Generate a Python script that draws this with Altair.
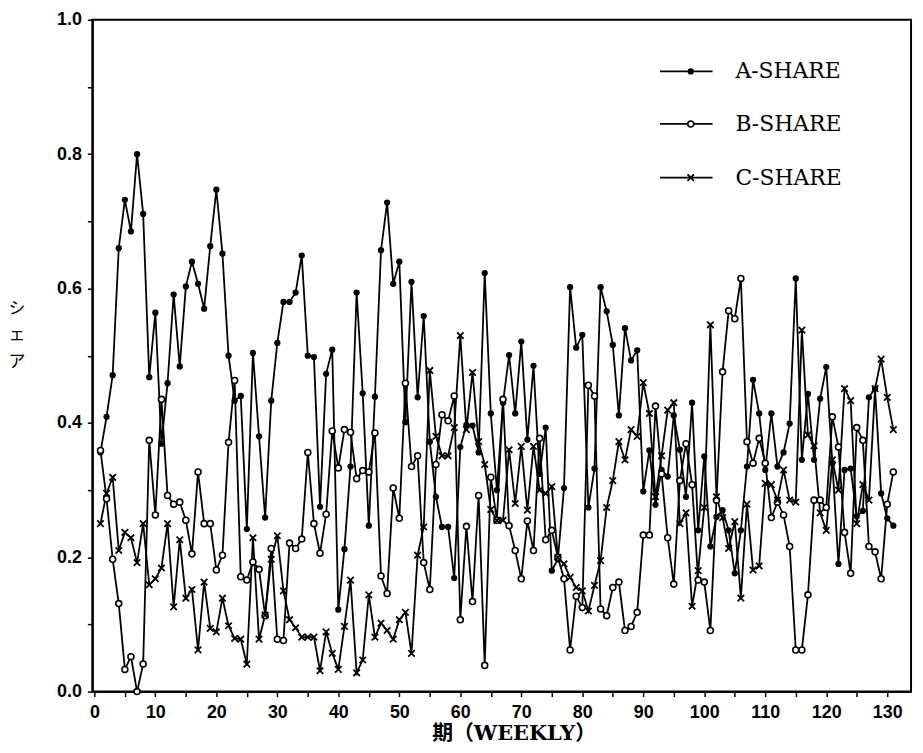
import altair as alt
import pandas as pd

weeks = list(range(1, 132))

a_share = [
    0.356, 0.409, 0.471, 0.660, 0.732, 0.685, 0.800, 0.711, 0.468, 0.564,
    0.369, 0.459, 0.591, 0.484, 0.603, 0.640, 0.607, 0.570, 0.663, 0.747,
    0.652, 0.500, 0.433, 0.440, 0.242, 0.504, 0.380, 0.259, 0.433, 0.519,
    0.580, 0.580, 0.594, 0.649, 0.500, 0.498, 0.275, 0.473, 0.509, 0.122,
    0.212, 0.335, 0.594, 0.444, 0.247, 0.439, 0.657, 0.728, 0.607, 0.640,
    0.401, 0.610, 0.438, 0.559, 0.372, 0.290, 0.245, 0.245, 0.169, 0.364,
    0.397, 0.396, 0.356, 0.623, 0.414, 0.300, 0.430, 0.501, 0.414, 0.521,
    0.375, 0.485, 0.324, 0.393, 0.180, 0.197, 0.303, 0.602, 0.512, 0.531,
    0.274, 0.332, 0.602, 0.566, 0.516, 0.411, 0.541, 0.493, 0.508, 0.298,
    0.359, 0.278, 0.330, 0.320, 0.411, 0.360, 0.290, 0.430, 0.240, 0.350,
    0.216, 0.260, 0.270, 0.240, 0.176, 0.240, 0.335, 0.464, 0.414, 0.330,
    0.414, 0.335, 0.356, 0.399, 0.615, 0.345, 0.443, 0.345, 0.436, 0.483,
    0.340, 0.190, 0.330, 0.332, 0.261, 0.269, 0.438, 0.451, 0.295, 0.258,
    0.247,
]

b_share = [
    0.359, 0.287, 0.197, 0.131, 0.033, 0.052, 0.000, 0.041, 0.374, 0.263,
    0.435, 0.292, 0.279, 0.282, 0.255, 0.205, 0.327, 0.250, 0.250, 0.181,
    0.203, 0.371, 0.463, 0.171, 0.166, 0.193, 0.182, 0.113, 0.213, 0.078,
    0.076, 0.221, 0.213, 0.227, 0.356, 0.250, 0.206, 0.264, 0.388, 0.333,
    0.390, 0.386, 0.317, 0.329, 0.327, 0.385, 0.172, 0.146, 0.303, 0.258,
    0.459, 0.335, 0.351, 0.192, 0.152, 0.338, 0.412, 0.403, 0.440, 0.107,
    0.246, 0.134, 0.292, 0.039, 0.319, 0.255, 0.435, 0.247, 0.210, 0.168,
    0.254, 0.210, 0.377, 0.226, 0.240, 0.200, 0.168, 0.062, 0.142, 0.125,
    0.456, 0.440, 0.123, 0.113, 0.155, 0.163, 0.091, 0.097, 0.118, 0.233,
    0.233, 0.425, 0.324, 0.229, 0.160, 0.314, 0.369, 0.308, 0.166, 0.163,
    0.091, 0.285, 0.476, 0.567, 0.555, 0.615, 0.372, 0.340, 0.377, 0.340,
    0.259, 0.282, 0.263, 0.216, 0.062, 0.062, 0.144, 0.285, 0.285, 0.274,
    0.409, 0.364, 0.237, 0.176, 0.393, 0.374, 0.216, 0.208, 0.168, 0.279,
    0.327,
]

c_share = [
    0.250, 0.295, 0.319, 0.210, 0.237, 0.229, 0.192, 0.250, 0.159, 0.168,
    0.184, 0.250, 0.126, 0.226, 0.139, 0.152, 0.062, 0.163, 0.094, 0.089,
    0.139, 0.098, 0.079, 0.078, 0.041, 0.229, 0.078, 0.114, 0.197, 0.232,
    0.150, 0.107, 0.095, 0.081, 0.081, 0.081, 0.031, 0.089, 0.057, 0.033,
    0.097, 0.166, 0.028, 0.047, 0.144, 0.081, 0.102, 0.091, 0.078, 0.107,
    0.118, 0.057, 0.203, 0.245, 0.478, 0.380, 0.351, 0.351, 0.393, 0.530,
    0.390, 0.475, 0.372, 0.338, 0.271, 0.255, 0.255, 0.360, 0.280, 0.365,
    0.270, 0.365, 0.300, 0.295, 0.305, 0.200, 0.190, 0.170, 0.155, 0.150,
    0.120, 0.158, 0.195, 0.274, 0.314, 0.372, 0.345, 0.390, 0.380, 0.460,
    0.414, 0.290, 0.351, 0.419, 0.430, 0.250, 0.266, 0.127, 0.180, 0.274,
    0.546, 0.290, 0.259, 0.213, 0.253, 0.139, 0.279, 0.181, 0.187, 0.310,
    0.308, 0.285, 0.330, 0.285, 0.282, 0.538, 0.382, 0.366, 0.266, 0.240,
    0.345, 0.300, 0.451, 0.433, 0.250, 0.308, 0.285, 0.451, 0.495, 0.438,
    0.390,
]

series_names = ["A-SHARE", "B-SHARE", "C-SHARE"]
x_tick_values = list(range(0, 131, 5))
y_tick_values = [round(i * 0.1, 1) for i in range(11)]
x_title = "期（WEEKLY）"
y_title = ["シ", "ェ", "ア"]

rows = []
for name, vals in zip(series_names, [a_share, b_share, c_share]):
    for w, v in zip(weeks, vals):
        rows.append({"week": w, "share": v, "series": name})
df = pd.DataFrame(rows)

W, H = 825, 677
xs = alt.Scale(domain=[-0.33, 133.9], nice=False, zero=False)
ys = alt.Scale(domain=[0, 1], nice=False, zero=False)

x_enc = alt.X(
    "week:Q", scale=xs,
    axis=alt.Axis(values=x_tick_values, title=None, labelPadding=7,
                  labelExpr="datum.value % 10 == 0 ? datum.label : ''"),
)
y_enc = alt.Y(
    "share:Q", scale=ys,
    axis=alt.Axis(values=y_tick_values, title=None, labelPadding=6,
                  labelExpr="round(datum.value * 10) % 2 == 0 ? format(datum.value, '.1f') : ''"),
)

base = alt.Chart(df)

lines = base.mark_line(color="black", strokeWidth=1.8).encode(
    x=x_enc, y=y_enc, detail="series:N"
)

X_SHAPE = "M-1,-1L1,1M1,-1L-1,1"

def marker(chart, name):
    if name == "A-SHARE":
        return chart.mark_point(shape="circle", filled=True, color="black",
                                size=40, opacity=1)
    if name == "B-SHARE":
        return chart.mark_point(shape="circle", filled=True, fill="white",
                                stroke="black", strokeWidth=1.6, size=36, opacity=1)
    return chart.mark_point(shape=X_SHAPE, filled=False, stroke="black",
                            strokeWidth=1.8, size=42, opacity=1)

points = []
for name in series_names:
    points.append(
        marker(base.transform_filter(alt.datum.series == name), name).encode(x=x_enc, y=y_enc)
    )

# legend (drawn manually, top-right inside plot)
legend_layers = []
legend_y = [52, 105, 159]
for name, ly in zip(series_names, legend_y):
    ldf = pd.DataFrame({"t": [name]})
    lc = alt.Chart(ldf)
    legend_layers.append(
        lc.mark_rule(color="black", strokeWidth=1.8).encode(
            x=alt.value(572), x2=alt.value(625), y=alt.value(ly))
    )
    legend_layers.append(marker(lc, name).encode(x=alt.value(603), y=alt.value(ly)))
    legend_layers.append(
        lc.mark_text(align="left", baseline="middle", font="DejaVu Serif",
                     fontSize=22, color="black").encode(
            x=alt.value(648), y=alt.value(ly), text="t:N")
    )

xt = alt.Chart(pd.DataFrame({"t": [x_title]})).mark_text(
    align="center", baseline="middle", font="DejaVu Serif, Noto Sans CJK JP",
    fontSize=21, fontWeight="bold", color="black").encode(
    x=alt.value(425), y=alt.value(720), text="t:N")

yt = alt.Chart(pd.DataFrame({"t": ["y"]})).mark_text(
    align="center", baseline="middle", font="Noto Sans CJK JP",
    fontSize=17, color="black", lineHeight=27).encode(
    x=alt.value(-76), y=alt.value(291), text=alt.value(y_title))

chart = alt.layer(lines, *points, *legend_layers, xt, yt).properties(
    width=W, height=H,
    padding={"left": 85, "top": 9, "right": 4, "bottom": 58},
    autosize=alt.AutoSizeParams(type="none"),
).configure_view(
    stroke="black", strokeWidth=2
).configure_axis(
    domainColor="black", domainWidth=2, tickColor="black", tickWidth=1.5,
    tickSize=5, labelColor="black", labelFont="Liberation Sans",
    labelFontSize=18, labelFontWeight="bold", grid=False,
)

chart.save("out.html", embed_options={"renderer": "svg", "actions": False})
